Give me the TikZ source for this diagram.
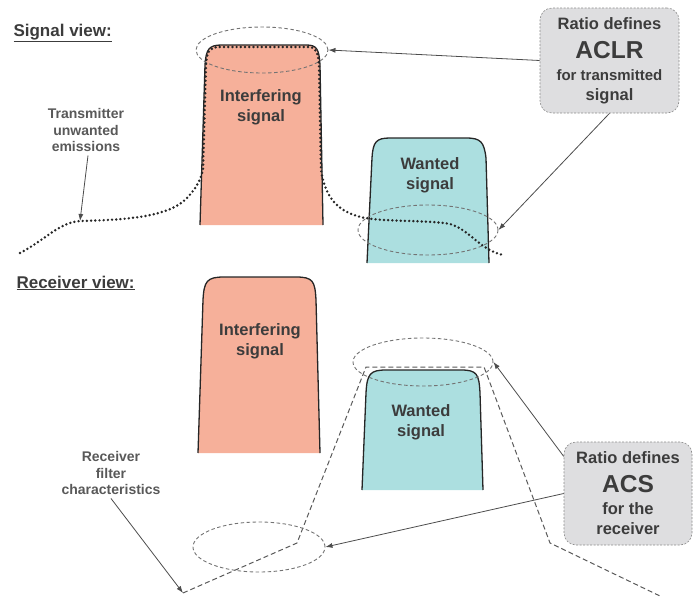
\documentclass[tikz,border=0pt]{standalone}
\usepackage{fontspec}
\setmainfont{Liberation Sans}
\usetikzlibrary{arrows.meta, shapes.geometric}

\definecolor{interf}{RGB}{246,176,154}
\definecolor{wanted}{RGB}{172,223,224}
\definecolor{boxgray}{RGB}{222,222,224}
\definecolor{ink}{RGB}{60,60,60}

\tikzset{
  sig/.style={draw=black!85, line width=1.3pt},
  emis/.style={draw=black!85, line width=2.7pt, line cap=round, dash pattern=on 0pt off 4.2pt},
  filt/.style={draw=black!65, line width=1pt, dash pattern=on 5pt off 3pt},
  ring/.style={ellipse, draw=black!55, line width=0.9pt, dash pattern=on 3.5pt off 2.5pt, inner sep=0pt},
  note/.style={draw=black!45, line width=0.6pt, dash pattern=on 2pt off 1.5pt, fill=boxgray, rounded corners=12pt,
    align=center, text=ink, inner sep=0pt, font=\fontsize{16.5}{20}\selectfont\bfseries},
  lbl/.style={align=center, text=ink, font=\fontsize{16.5}{20}\selectfont\bfseries},
  small/.style={align=center, text=ink!85, font=\fontsize{14}{16.8}\selectfont\bfseries},
  head/.style={anchor=base west, text=ink, font=\fontsize{17}{20}\selectfont\bfseries},
  ptr/.style={draw=black!70, line width=0.8pt, -{Latex[length=7pt,width=5pt]}},
}

\begin{document}
\begin{tikzpicture}[x=1pt, y=-1pt]
        \useasboundingbox (0,0) rectangle (693,597);

        \coordinate (emisA) at (80,221);
        \coordinate (filtA) at (183,593);
        \coordinate (filtB) at (297,543);
        \coordinate (filtC) at (366,367);
        \coordinate (filtD) at (484,367);
        \coordinate (filtE) at (550,543);
        \coordinate (filtF) at (660,596);

        \node[head] (sigHead) at (10,36) {\underline{Signal view:}};
        \node[head] (rxHead) at (13,288) {\underline{Receiver view:}};

        % signal view
        \draw[sig, fill=interf] (200,225) -- (205,65) .. controls (206,49) and (209,45) .. (222,45) -- (306,45) .. controls (317,45) and (319,49) .. (320,65) -- (323,225);
        \draw[sig, fill=wanted] (367,263) -- (372,158) .. controls (373,142) and (376,138) .. (390,138) -- (466,138) .. controls (481,138) and (484,142) .. (486,158) -- (489,263);

        \node[lbl] (intTxtA) at (261,107) {Interfering\\signal};
        \node[lbl] (wantTxtA) at (430,175) {Wanted\\signal};

        \node[ring, minimum width=132pt, minimum height=46pt] (aclrTop) at (262,50) {};
        \node[ring, minimum width=140pt, minimum height=50pt] (aclrLow) at (428,230) {};

        \draw[emis] (20,253) .. controls (45,240) and (60,222) .. (emisA) .. controls (120,220) and (165,218) .. (185,200) .. controls (195,190) and (200,182) .. (203,170) -- (206,65) .. controls (207,50) and (210,47) .. (220,47) -- (308,47) .. controls (316,47) and (318,52) .. (319,65) -- (321,170) .. controls (325,195) and (335,212) .. (365,218) .. controls (390,222) and (430,220) .. (450,224) .. controls (470,230) and (480,250) .. (503,255);

        \node[small] (txLbl) at (86,130) {Transmitter\\unwanted\\emissions};

        \node[note, minimum width=139pt, minimum height=105pt] (aclrBox) at (609.5,60.5)
            {Ratio defines\\[9pt]{\fontsize{24.5}{26}\selectfont ACLR}\\[2pt]{\fontsize{15}{20}\selectfont for transmitted}\\signal};

        % receiver view
        \draw[sig, fill=interf] (198,453) -- (203,300) .. controls (204,281) and (207,277) .. (224,277) -- (296,277) .. controls (313,277) and (315,281) .. (316,300) -- (320,453);
        \draw[sig, fill=wanted] (362,490) -- (366,393) .. controls (367,374) and (370,370) .. (386,370) -- (461,370) .. controls (477,370) and (479,374) .. (480,393) -- (483,490);

        \node[lbl] (intTxtB) at (260,341) {Interfering\\signal};
        \node[lbl] (wantTxtB) at (421,422) {Wanted\\signal};

        \draw[filt] (filtA) -- (filtB) -- (filtC) -- (filtD) -- (filtE) -- (filtF);

        \node[ring, minimum width=140pt, minimum height=48pt] (acsTop) at (423,362) {};
        \node[ring, minimum width=132pt, minimum height=50pt] (acsLow) at (259,547) {};

        \node[small] (rxLbl) at (111,473) {Receiver\\filter\\characteristics};

        \node[note, minimum width=128pt, minimum height=103pt] (acsBox) at (628,493.5)
            {Ratio defines\\[9pt]{\fontsize{24.5}{26}\selectfont ACS}\\[2pt]for the\\receiver};

        \draw[ptr] (aclrBox.west) -- (aclrTop.east);
        \draw[ptr] (aclrBox.south) -- (aclrLow.east);
        \draw[ptr] (acsBox.150) -- (acsTop.east);
        \draw[ptr] (acsBox.west) -- (acsLow.east);
        \draw[ptr] ([xshift=2pt]txLbl.south) -- (emisA);
        \draw[ptr] (rxLbl.south) -- (filtA);

    \end{tikzpicture}
\end{document}
